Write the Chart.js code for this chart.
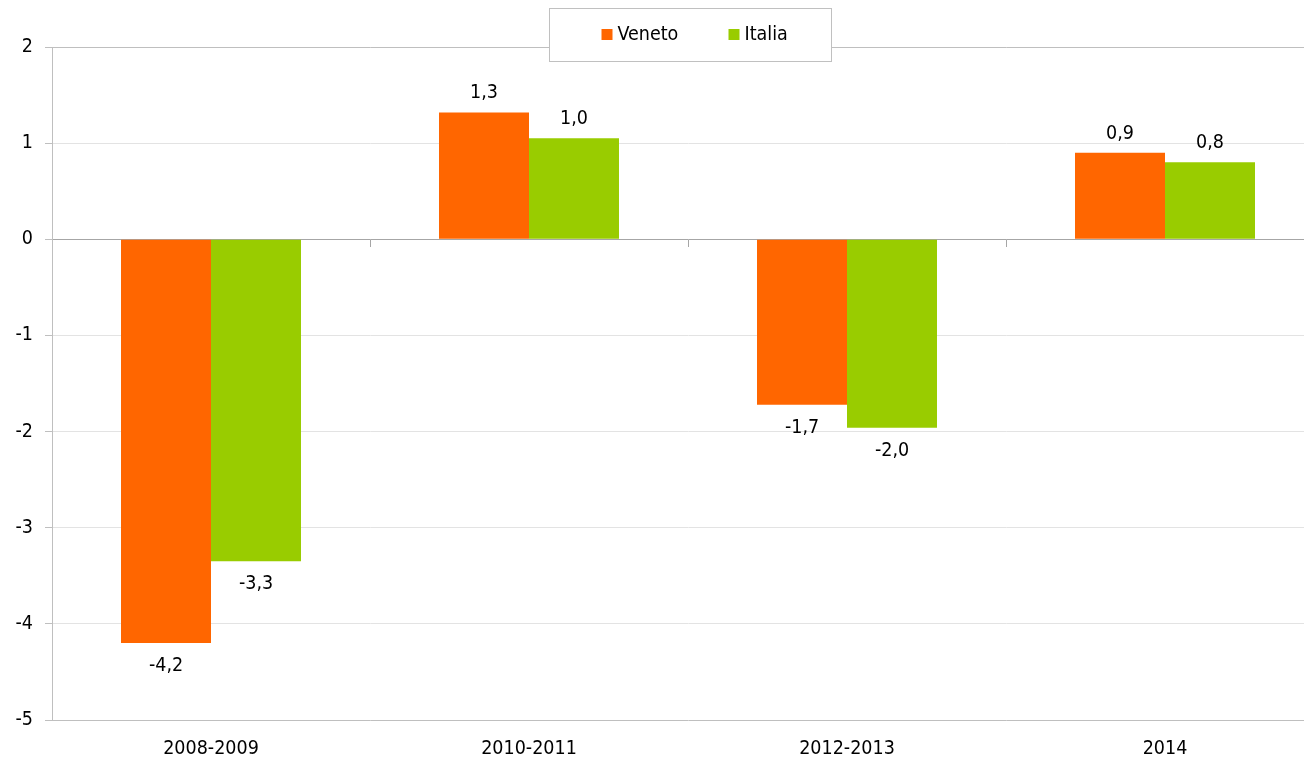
<!DOCTYPE html>
<html>
<head>
<meta charset="utf-8">
<script src="https://cdn.jsdelivr.net/npm/chart.js@4"></script>
<style>
    body { margin: 0; background: #fff; overflow: hidden; }
    #wrap { width: 1324px; height: 759px; }
</style>
</head>
<body>
<div id="wrap"><canvas id="chart" width="1324" height="759"></canvas></div>
<script>
const categories = ['2008-2009', '2010-2011', '2012-2013', '2014'];
const seriesNames = ['Veneto', 'Italia'];
const veneto = [-4.2, 1.32, -1.72, 0.9];
const italia = [-3.35, 1.05, -1.96, 0.8];
const venetoLabels = ['-4,2', '1,3', '-1,7', '0,9'];
const italiaLabels = ['-3,3', '1,0', '-2,0', '0,8'];
const yMin = -5;
const yMax = 2;

const FONT = '"DejaVu Sans Condensed", "DejaVu Sans", sans-serif';
const FSIZE = 19.5;
const orange = '#ff6600';
const green = '#99cc00';

// value labels above / below each bar
const barLabels = {
    id: 'barLabels',
    afterDatasetsDraw(chart) {
        const ctx = chart.ctx;
        const labelSets = [venetoLabels, italiaLabels];
        ctx.save();
        ctx.font = FSIZE + 'px ' + FONT;
        ctx.fillStyle = '#000';
        ctx.textAlign = 'center';
        ctx.textBaseline = 'middle';
        chart.data.datasets.forEach((ds, i) => {
            chart.getDatasetMeta(i).data.forEach((bar, j) => {
                const v = ds.data[j];
                const y = v >= 0 ? bar.y - 19 : bar.y + 23;
                ctx.fillText(labelSets[i][j], bar.x, y);
            });
        });
        ctx.restore();
    }
};

// boxed legend sitting over the top of the plot
const boxLegend = {
    id: 'boxLegend',
    afterDraw(chart) {
        const ctx = chart.ctx;
        const cx = (chart.chartArea.left + chart.chartArea.right) / 2 + 2;
        const x0 = Math.round(cx - 141) + 0.5;
        ctx.save();
        ctx.fillStyle = '#fff';
        ctx.strokeStyle = '#c0c0c0';
        ctx.lineWidth = 1;
        ctx.fillRect(x0, 8.5, 282, 53);
        ctx.strokeRect(x0, 8.5, 282, 53);
        ctx.font = FSIZE + 'px ' + FONT;
        ctx.textBaseline = 'middle';
        const items = [[x0 + 52, orange], [x0 + 179, green]];
        chart.data.datasets.forEach((ds, i) => {
            const [mx, col] = items[i];
            ctx.fillStyle = col;
            ctx.fillRect(mx, 29, 11, 11);
            ctx.fillStyle = '#000';
            ctx.fillText(ds.label, mx + 16, 35);
        });
        ctx.restore();
    }
};

new Chart(document.getElementById('chart'), {
    type: 'bar',
    data: {
        labels: categories,
        datasets: [
            { label: seriesNames[0], data: veneto, backgroundColor: orange, xAxisID: 'x' },
            { label: seriesNames[1], data: italia, backgroundColor: green, xAxisID: 'x' }
        ]
    },
    options: {
        responsive: false,
        animation: false,
        devicePixelRatio: 1,
        categoryPercentage: 0.566,
        barPercentage: 1,
        layout: { padding: { top: 47, right: 0, left: 0, bottom: 0 } },
        plugins: {
            legend: { display: false },
            tooltip: { enabled: false }
        },
        scales: {
            x: {
                position: 'bottom',
                grid: { display: false, drawTicks: false },
                border: { display: false },
                ticks: {
                    color: '#000',
                    font: { family: FONT, size: FSIZE },
                    padding: 17,
                    maxRotation: 0
                },
                afterFit(scale) { scale.height = 39; }
            },
            x2: {
                type: 'category',
                position: { y: 0 },
                offset: true,
                grid: {
                    offset: true,
                    drawOnChartArea: false,
                    tickLength: 7,
                    color: '#a6a6a6'
                },
                border: { color: '#a6a6a6' },
                ticks: { display: false }
            },
            y: {
                min: yMin,
                max: yMax,
                ticks: {
                    stepSize: 1,
                    color: '#000',
                    font: { family: FONT, size: FSIZE },
                    padding: 12
                },
                grid: {
                    tickLength: 7,
                    color: ctx => (ctx.tick && (ctx.tick.value === yMax || ctx.tick.value === yMin)) ? '#bfbfbf' : '#e3e3e3',
                    tickColor: '#bfbfbf'
                },
                border: { color: '#bfbfbf' },
                afterFit(scale) { scale.width = 52; }
            }
        }
    },
    plugins: [barLabels, boxLegend]
});
</script>
</body>
</html>
